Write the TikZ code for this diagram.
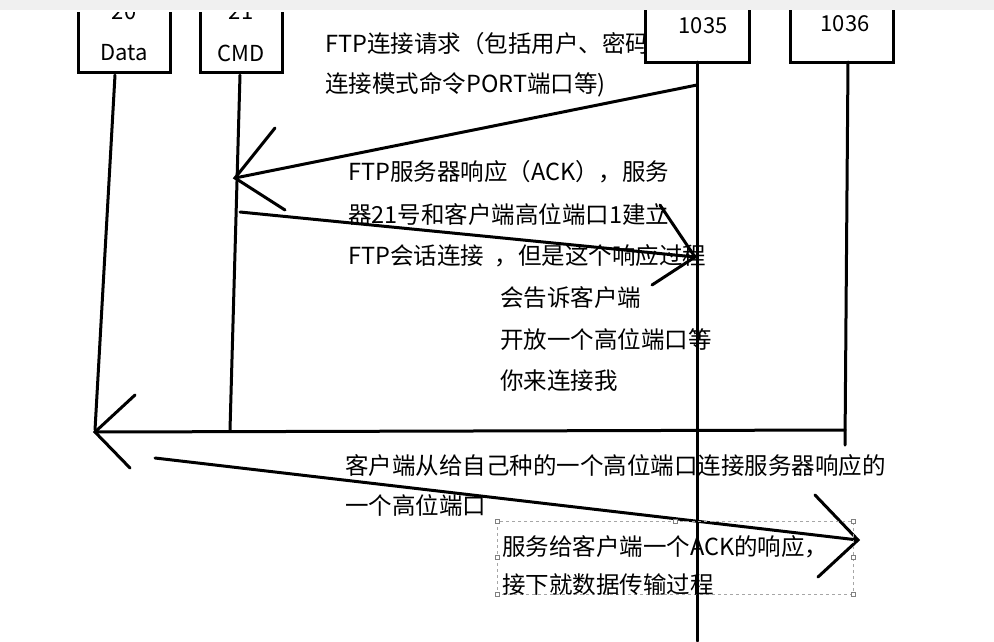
\documentclass[tikz,border=0pt]{standalone}
\usepackage{fontspec}
\setmainfont{Noto Sans CJK SC}
\begin{document}
\begin{tikzpicture}[x=1pt,y=-1pt,
  ln/.style={line width=3pt,line cap=round},
  bx/.style={draw,line width=3pt},
  tx/.style={anchor=west,font=\fontsize{23.5}{26}\selectfont,inner sep=0pt},
  lb/.style={font=\fontsize{22}{24}\selectfont,inner sep=0pt},
  hd/.style={draw=gray,fill=white,line width=0.5pt,minimum size=4pt,inner sep=0pt}]
\useasboundingbox (0,0) rectangle (994,641);
\fill[white] (0,0) rectangle (994,641);
\begin{scope}
\clip (0,12) rectangle (994,641);
\draw[bx] (78,-10) rectangle (170,72);
\draw[bx] (200,-10) rectangle (282,72);
\node[lb] (n20) at (124,12) {20};
\node[lb] (n21) at (241,12) {21};
\end{scope}
\node[lb] (data) at (124,53) {Data};
\node[lb] (cmd) at (241,53) {CMD};
\node[tx] (t1) at (325,44) {FTP连接请求（包括用户、密码};
\begin{scope}
\clip (0,10) rectangle (994,641);
\draw[bx,fill=white] (645,-10) rectangle (749,62);
\draw[bx,fill=white] (790,-10) rectangle (893,62);
\end{scope}
\node[lb] (p35) at (703,26) {1035};
\node[lb] (p36) at (845,24) {1036};
\fill[gray!12] (0,0) rectangle (994,10);
% lifelines
\coordinate (d0) at (115,75); \coordinate (d1) at (95,430);
\coordinate (c0) at (240,75); \coordinate (c1) at (230,430);
\coordinate (a0) at (697,62); \coordinate (a1) at (697,641);
\coordinate (b0) at (848,62); \coordinate (b1) at (845,445);
\draw[ln] (d0)--(d1); \draw[ln] (c0)--(c1); \draw[ln] (a0)--(a1); \draw[ln] (b0)--(b1);
% arrow 1
\coordinate (m1s) at (697,85); \coordinate (m1e) at (235,178);
\draw[ln] (m1s)--(m1e);
\draw[ln] (275,128)--(m1e)--(285,210);
% arrow 2
\coordinate (m2s) at (240,212); \coordinate (m2e) at (695,257);
\draw[ln] (m2s)--(m2e);
\draw[ln] (660,205)--(m2e)--(652,285);
% arrow 3
\coordinate (m3s) at (845,430); \coordinate (m3e) at (95,432);
\draw[ln] (m3s)--(m3e);
\draw[ln] (135,395)--(m3e)--(130,468);
% arrow 4
\coordinate (m4s) at (155,458); \coordinate (m4e) at (858,540);
\draw[ln] (m4s)--(m4e);
\draw[ln] (815,495)--(m4e)--(818,577);
% texts
\node[tx] (t2) at (325,85) {连接模式命令PORT端口等)};
\node[tx] (t3) at (348,172) {FTP服务器响应（ACK），服务};
\node[tx] (t4) at (348,215) {器21号和客户端高位端口1建立};
\node[tx] (t5) at (348,256) {FTP会话连接\ \ ，但是这个响应过程};
\node[tx] (t6) at (500,298) {会告诉客户端};
\node[tx] (t7) at (500,340) {开放一个高位端口等};
\node[tx] (t8) at (500,381) {你来连接我};
\node[tx] (t9) at (345,466) {客户端从给自己种的一个高位端口连接服务器响应的};
\node[tx] (t10) at (345,506) {一个高位端口};
\draw[gray!70,dashed,line width=0.6pt] (497,521) rectangle (853,594);
\foreach \p in {(497,521),(675,521),(853,521),(497,557),(853,557),(497,594),(853,594)} \node[hd] at \p {};
\node[tx] (t11) at (502,547) {服务给客户端一个ACK的响应，};
\node[tx] (t12) at (502,585) {接下就数据传输过程};
\end{tikzpicture}
\end{document}
